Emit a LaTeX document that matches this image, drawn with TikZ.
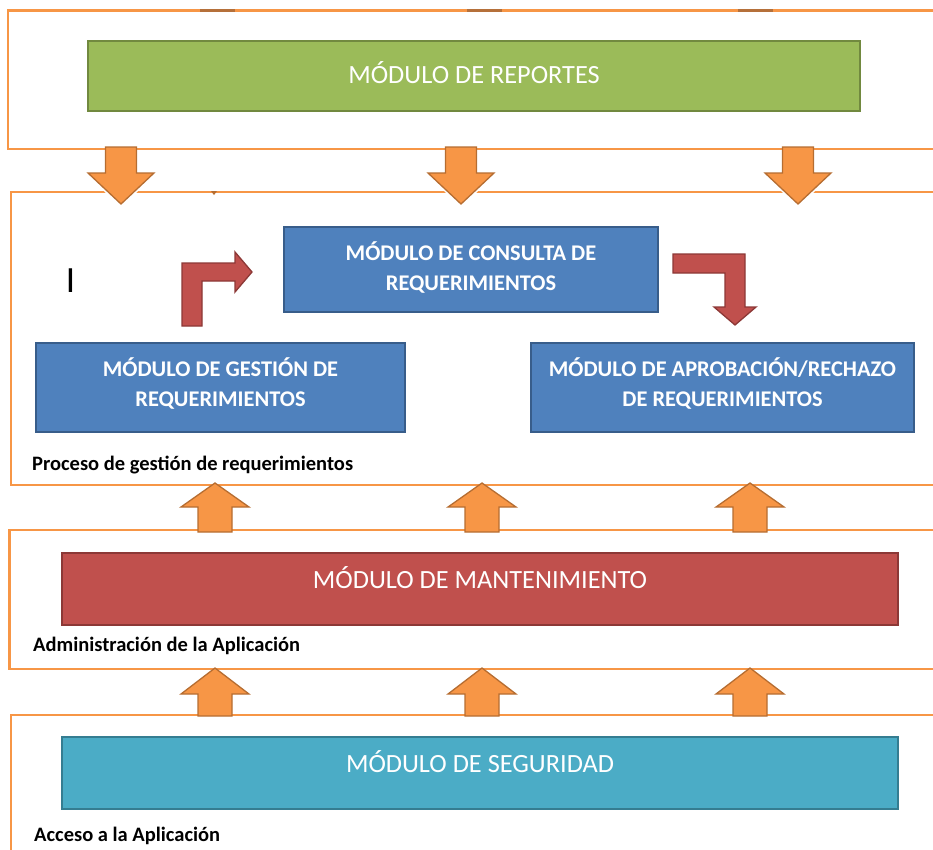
\documentclass[tikz,border=0pt]{standalone}
\usepackage{fontspec}
\setmainfont{Carlito}
\definecolor{frameorange}{HTML}{F79646}
\definecolor{arrowedge}{HTML}{B66D31}
\definecolor{stubbrown}{HTML}{B5703A}
\definecolor{greenfill}{HTML}{9BBB59}
\definecolor{greenedge}{HTML}{71893F}
\definecolor{bluefill}{HTML}{4F81BD}
\definecolor{blueedge}{HTML}{385D8A}
\definecolor{redfill}{HTML}{C0504D}
\definecolor{rededge}{HTML}{8C3836}
\definecolor{tealfill}{HTML}{4BACC6}
\definecolor{tealedge}{HTML}{357D91}
\begin{document}
\begin{tikzpicture}[x=1pt,y=-1pt,
  layer/.style={draw=frameorange,line width=2.7pt},
  modbox/.style={rectangle,inner sep=0pt,line width=2pt},
  bigtitle/.style={text=white,font=\fontsize{26.3}{30}\selectfont,inner sep=0pt},
  smalltitle/.style={text=white,font=\fontsize{22.4}{30}\selectfont\bfseries,align=center,inner sep=0pt},
  caption/.style={text=black,font=\fontsize{20.5}{24}\selectfont\bfseries,anchor=west,inner sep=0pt},
  blockarrow/.style={fill=frameorange,draw=arrowedge,line width=1.3pt,line join=miter},
  bentarrow/.style={fill=redfill,draw=rededge,line width=1.3pt,line join=miter}]
\useasboundingbox (0,0) rectangle (933,849);
\clip (0,0) rectangle (933,849);

% layer frames (open to the right and below)
\draw[layer] (990,10.5) -- (8,10.5) -- (8,149) -- (990,149);
\draw[layer] (990,192) -- (11,192) -- (11,485) -- (990,485);
\draw[layer] (990,530) -- (9.5,530) -- (9.5,669) -- (990,669);
\draw[layer] (990,715) -- (11,715) -- (11,900);

% shaft ends of the arrows entering from above
\foreach \cx in {217,484,755}
  \fill[stubbrown] (\cx-17.5,9) rectangle (\cx+17.5,12);

% module boxes
\node[modbox,fill=greenfill,draw=greenedge,minimum width=772pt,minimum height=70pt] (rep) at (474,76) {};
\node[bigtitle] (reptxt) at (474,73) {MÓDULO DE REPORTES};

\node[modbox,fill=bluefill,draw=blueedge,minimum width=374pt,minimum height=85pt] (cons) at (471,269.5) {};
\node[smalltitle] (constxt) at (471,267) {MÓDULO DE CONSULTA DE\\REQUERIMIENTOS};

\node[modbox,fill=bluefill,draw=blueedge,minimum width=369pt,minimum height=89pt] (gest) at (220.5,387.5) {};
\node[smalltitle] (gesttxt) at (220.5,383) {MÓDULO DE GESTIÓN DE\\REQUERIMIENTOS};

\node[modbox,fill=bluefill,draw=blueedge,minimum width=383pt,minimum height=89pt] (apro) at (722.5,387.5) {};
\node[smalltitle] (aprotxt) at (722.5,383) {MÓDULO DE APROBACIÓN/RECHAZO\\DE REQUERIMIENTOS};

\node[modbox,fill=redfill,draw=rededge,minimum width=836pt,minimum height=72pt] (mant) at (480,589) {};
\node[bigtitle] (manttxt) at (480,578) {MÓDULO DE MANTENIMIENTO};

\node[modbox,fill=tealfill,draw=tealedge,minimum width=836pt,minimum height=72pt] (seg) at (480,773) {};
\node[bigtitle] (segtxt) at (480,762) {MÓDULO DE SEGURIDAD};

% layer captions
\node[caption] (cap2) at (32,465) {Proceso de gestión de requerimientos};
\node[caption] (cap3) at (33,646) {Administración de la Aplicación};
\node[caption] (cap4) at (34,836) {Acceso a la Aplicación};

\node[text=black,font=\fontsize{37}{40}\selectfont,inner sep=0pt] (cursor) at (70.5,281) {I};

% small mark on the second frame
\fill[arrowedge] (211,191) -- (217,191) -- (214,195) -- cycle;

% down arrows from the report layer
\foreach \cx in {121,461,798} {
  \fill[white] (\cx-37,171) -- (\cx+37,171) -- (\cx,208) -- cycle;
  \draw[blockarrow] (\cx-15.5,147) -- (\cx+15.5,147) -- (\cx+15.5,173) -- (\cx+33,173)
     -- (\cx,204) -- (\cx-33,173) -- (\cx-15.5,173) -- cycle;
}

% up arrows between lower layers
\foreach \cx in {215,482,750} {
  \foreach \tip/\base/\bot in {483/507/532, 668/694/716} {
    \draw[blockarrow] (\cx-17,\bot) -- (\cx+17,\bot) -- (\cx+17,\base) -- (\cx+34,\base)
       -- (\cx,\tip) -- (\cx-34,\base) -- (\cx-17,\base) -- cycle;
  }
}

% bent arrows inside the management process
\draw[bentarrow] (182,326) -- (182,263) -- (235,263) -- (235,252) -- (252,272)
   -- (235,292) -- (235,281) -- (202,281) -- (202,326) -- cycle;
\draw[bentarrow] (673,254) -- (745,254) -- (745,307) -- (756,307) -- (735,325)
   -- (714,307) -- (725,307) -- (725,273) -- (673,273) -- cycle;
\end{tikzpicture}
\end{document}
